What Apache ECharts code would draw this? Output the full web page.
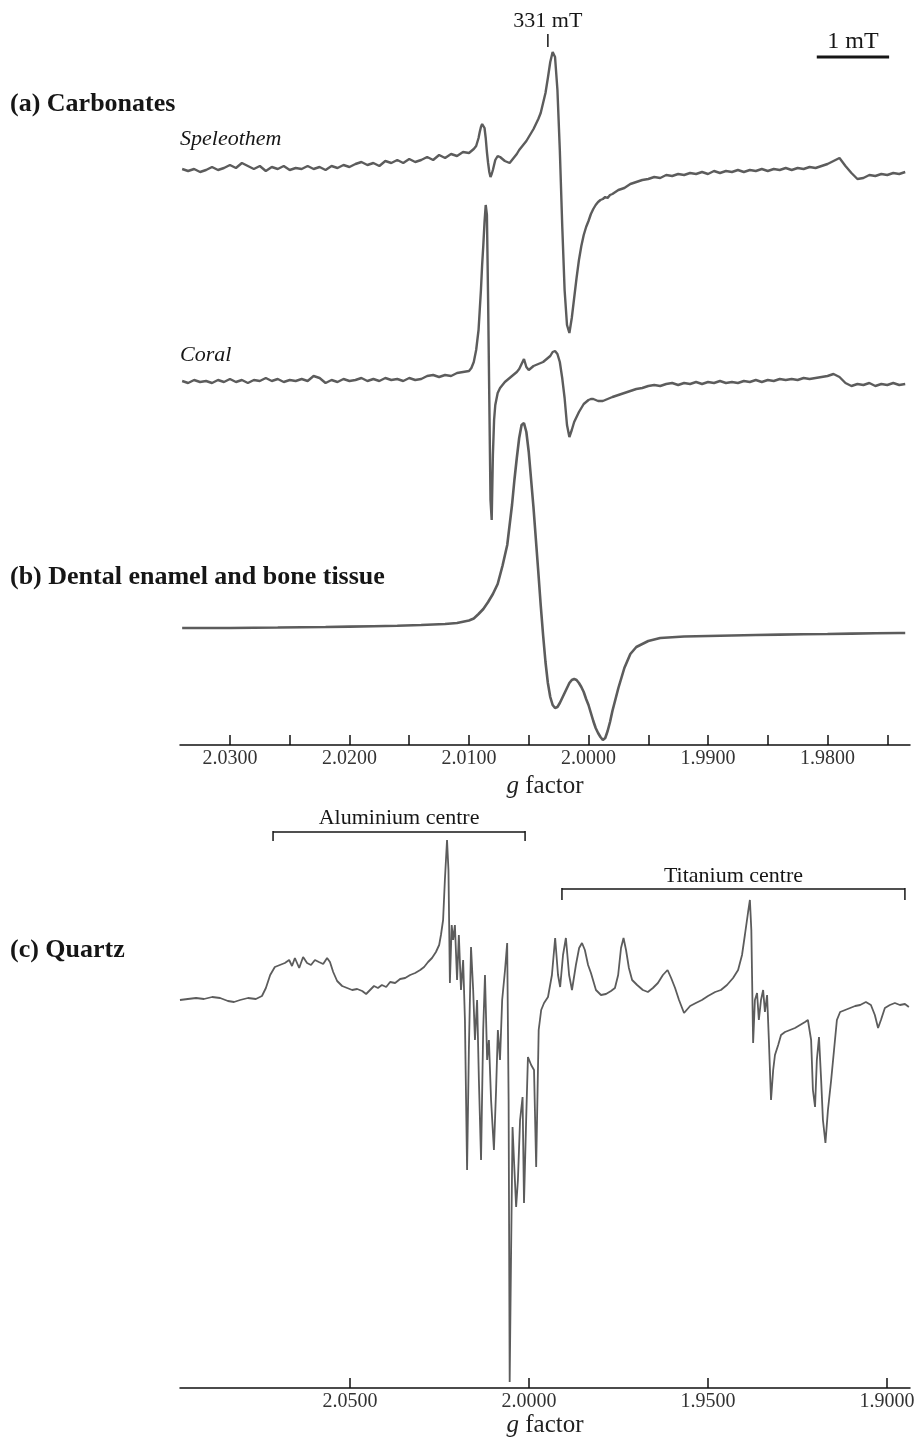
<!DOCTYPE html>
<html><head><meta charset="utf-8">
<script src="https://cdn.jsdelivr.net/npm/echarts@6/dist/echarts.min.js"></script>
<style>html,body{margin:0;padding:0;background:#fff}#c{width:917px;height:1445px}</style>
</head><body><div id="c"></div>
<script>
// ---------------- DATA (g factor, relative EPR intensity in a.u.) ----------------
const speleothem = [[2.0340,0.1],[2.0335,-0.1],[2.0330,0.1],[2.0325,-0.2],[2.0320,0],[2.0315,0.3],[2.0310,0],[2.0305,0.2],[2.0300,0.5],[2.0295,0.2],[2.0290,0.7],[2.0285,0.4],[2.0280,0.1],[2.0275,0.4],[2.0270,-0.1],[2.0265,0.3],[2.0260,0.1],[2.0255,0.4],[2.0250,0],[2.0245,0.2],[2.0240,0.1],[2.0235,0.4],[2.0230,0.1],[2.0225,0.3],[2.0220,0],[2.0215,0.4],[2.0210,0.2],[2.0205,0.5],[2.0200,0.3],[2.0195,0.6],[2.0190,0.8],[2.0185,0.5],[2.0180,0.7],[2.0175,0.4],[2.0170,0.9],[2.0165,0.7],[2.0160,1.0],[2.0155,0.7],[2.0150,1.1],[2.0145,0.8],[2.0140,1.0],[2.0135,1.3],[2.0130,1.0],[2.0125,1.5],[2.0120,1.2],[2.0115,1.6],[2.0110,1.4],[2.0105,1.8],
[2.0100,1.7],[2.0098,1.9],[2.0096,2.1],[2.0094,2.4],[2.0092,3.2],[2.0091,3.8],[2.0090,4.3],[2.0089,4.6],[2.0088,4.7],[2.0087,4.2],[2.0086,3.2],[2.0085,1.8],[2.0084,0.7],[2.0083,-0.2],[2.0082,-0.7],[2.0081,-0.4],[2.0080,0],[2.0079,0.5],[2.0078,1.0],[2.0076,1.4],[2.0074,1.3],[2.0072,1.1],[2.0070,0.9],[2.0068,0.8],[2.0066,0.7],[2.0064,1.0],[2.0062,1.3],[2.0060,1.6],[2.0058,2.0],[2.0056,2.3],[2.0054,2.6],[2.0052,2.9],[2.0050,3.3],[2.0048,3.7],[2.0046,4.1],[2.0044,4.6],[2.0042,5.1],[2.0040,5.7],[2.0038,6.7],[2.0036,7.7],[2.0034,9.2],[2.0032,10.8],[2.0030,11.8],[2.0028,11.3],[2.0026,8.0],[2.0024,2.0],[2.0022,-5.5],[2.0020,-12.0],[2.0018,-15.5],[2.0016,-16.3],[2.0014,-14.8],[2.0012,-12.8],[2.0010,-10.8],[2.0008,-9.0],[2.0006,-7.6],[2.0004,-6.5],[2.0002,-5.7],[2.0000,-5.1],[1.9998,-4.4],[1.9996,-3.9],[1.9994,-3.5],[1.9992,-3.2],[1.9990,-3.0],[1.9988,-2.9],[1.9986,-2.7],[1.9984,-2.8],[1.9982,-2.5],[1.9980,-2.4],
[1.9975,-2.0],[1.9970,-1.8],[1.9965,-1.4],[1.9960,-1.2],[1.9955,-1.0],[1.9950,-0.9],[1.9945,-0.7],[1.9940,-0.8],[1.9935,-0.5],[1.9930,-0.6],[1.9925,-0.4],[1.9920,-0.5],[1.9915,-0.3],[1.9910,-0.4],[1.9905,-0.2],[1.9900,-0.4],[1.9895,-0.1],[1.9890,-0.3],[1.9885,-0.1],[1.9880,-0.2],[1.9875,0],[1.9870,-0.2],[1.9865,0],[1.9860,-0.1],[1.9855,0.1],[1.9850,-0.1],[1.9845,0.1],[1.9840,0],[1.9835,0.2],[1.9830,0],[1.9825,0.2],[1.9820,0.1],[1.9815,0.3],[1.9810,0.2],[1.9805,0.4],[1.9800,0.6],[1.9795,0.9],[1.9790,1.2],[1.9785,0.4],[1.9780,-0.3],[1.9775,-0.9],[1.9770,-0.8],[1.9765,-0.5],[1.9760,-0.6],[1.9755,-0.4],[1.9750,-0.5],[1.9745,-0.3],[1.9740,-0.4],[1.9735,-0.2]];

const coral = [[2.0340,0],[2.0335,-0.2],[2.0330,0.1],[2.0325,-0.1],[2.0320,0],[2.0315,-0.2],[2.0310,0.1],[2.0305,-0.1],[2.0300,0.2],[2.0295,-0.1],[2.0290,0.1],[2.0285,-0.2],[2.0280,0.1],[2.0275,0],[2.0270,0.3],[2.0265,0],[2.0260,0.2],[2.0255,-0.1],[2.0250,0.1],[2.0245,0],[2.0240,0.2],[2.0235,0],[2.0230,0.5],[2.0225,0.3],[2.0220,-0.2],[2.0215,0.1],[2.0210,-0.1],[2.0205,0.2],[2.0200,0],[2.0195,0.1],[2.0190,0.3],[2.0185,0],[2.0180,0.2],[2.0175,0],[2.0170,0.3],[2.0165,0.1],[2.0160,0.2],[2.0155,0],[2.0150,0.3],[2.0145,0.1],[2.0140,0.2],[2.0135,0.5],[2.0130,0.6],[2.0125,0.4],[2.0120,0.6],[2.0115,0.5],[2.0110,0.8],[2.0105,0.9],
[2.0100,1.0],[2.0098,1.3],[2.0096,1.9],[2.0094,3.1],[2.0092,5.1],[2.0091,7.1],[2.0090,9.1],[2.0089,11.6],[2.0088,13.6],[2.0087,15.9],[2.0086,17.6],[2.0085,16.6],[2.0084,8.1],[2.0083,-1.9],[2.0082,-11.9],[2.0081,-13.9],[2.0080,-7.4],[2.0079,-3.9],[2.0078,-2.4],[2.0076,-1.2],[2.0074,-0.7],[2.0072,-0.4],[2.0070,-0.1],[2.0068,0.1],[2.0066,0.3],[2.0064,0.5],[2.0062,0.7],[2.0060,0.9],[2.0058,1.2],[2.0056,1.7],[2.0054,2.2],[2.0052,1.4],[2.0050,1.1],[2.0048,1.3],[2.0046,1.5],[2.0044,1.6],[2.0042,1.7],[2.0040,1.8],[2.0038,1.9],[2.0036,2.1],[2.0034,2.3],[2.0032,2.5],[2.0030,2.9],[2.0028,3.0],[2.0026,2.7],[2.0024,1.9],[2.0022,0.3],[2.0020,-1.7],[2.0018,-4.4],[2.0016,-5.6],[2.0014,-4.9],[2.0012,-4.1],[2.0010,-3.6],[2.0008,-3.1],[2.0006,-2.7],[2.0004,-2.3],[2.0002,-2.1],[2.0000,-1.9],[1.9998,-1.8],[1.9996,-1.8],[1.9994,-1.9],[1.9992,-2.0],[1.9990,-2.0],[1.9988,-2.0],[1.9986,-1.9],[1.9984,-1.8],[1.9982,-1.7],[1.9980,-1.6],
[1.9975,-1.4],[1.9970,-1.2],[1.9965,-1.0],[1.9960,-0.8],[1.9955,-0.7],[1.9950,-0.5],[1.9945,-0.4],[1.9940,-0.5],[1.9935,-0.3],[1.9930,-0.2],[1.9925,-0.4],[1.9920,-0.2],[1.9915,-0.3],[1.9910,-0.1],[1.9905,-0.3],[1.9900,-0.1],[1.9895,-0.2],[1.9890,0],[1.9885,-0.2],[1.9880,-0.1],[1.9875,-0.2],[1.9870,0],[1.9865,-0.1],[1.9860,0.1],[1.9855,-0.1],[1.9850,0.1],[1.9845,0],[1.9840,0.2],[1.9835,0.1],[1.9830,0.2],[1.9825,0.1],[1.9820,0.3],[1.9815,0.2],[1.9810,0.3],[1.9805,0.4],[1.9800,0.5],[1.9795,0.7],[1.9790,0.4],[1.9785,-0.2],[1.9780,-0.5],[1.9775,-0.3],[1.9770,-0.4],[1.9765,-0.2],[1.9760,-0.5],[1.9755,-0.3],[1.9750,-0.4],[1.9745,-0.2],[1.9740,-0.4],[1.9735,-0.3]];

const enamel = [[2.0340,0],[2.0320,0],[2.0300,0],[2.0280,0.03],[2.0260,0.05],[2.0240,0.08],[2.0220,0.1],[2.0200,0.14],[2.0180,0.18],[2.0160,0.22],[2.0140,0.3],[2.0120,0.4],[2.0110,0.5],[2.0100,0.75],[2.0096,0.95],[2.0092,1.4],[2.0088,1.9],[2.0084,2.6],[2.0080,3.4],[2.0076,4.4],[2.0072,6.2],[2.0068,8.3],[2.0064,12.3],[2.0062,14.8],[2.0060,17.0],[2.0058,19.0],[2.0056,20.3],[2.0054,20.5],[2.0052,19.6],[2.0050,17.6],[2.0048,14.8],[2.0046,12.0],[2.0044,8.8],[2.0042,5.6],[2.0040,2.3],[2.0038,-0.7],[2.0036,-3.4],[2.0034,-5.5],[2.0032,-6.9],[2.0030,-7.7],[2.0028,-8.0],[2.0026,-7.9],[2.0024,-7.5],[2.0022,-7.0],[2.0020,-6.5],[2.0018,-6.0],[2.0016,-5.5],[2.0014,-5.2],[2.0012,-5.1],[2.0010,-5.2],[2.0008,-5.5],[2.0006,-5.9],[2.0004,-6.4],[2.0002,-7.1],[2.0000,-7.7],[1.9998,-8.5],[1.9996,-9.3],[1.9994,-10.0],[1.9992,-10.5],[1.9990,-10.9],[1.9988,-11.2],[1.9986,-11.0],[1.9984,-10.3],[1.9982,-9.4],[1.9980,-8.3],[1.9975,-6.0],[1.9970,-4.0],[1.9965,-2.6],[1.9960,-1.9],[1.9950,-1.3],[1.9940,-1.0],[1.9920,-0.85],[1.9900,-0.8],[1.9880,-0.75],[1.9860,-0.7],[1.9840,-0.66],[1.9820,-0.62],[1.9800,-0.6],[1.9780,-0.56],[1.9760,-0.53],[1.9740,-0.5],[1.9735,-0.5]];

const quartz = [[2.0975,-0.1],[2.0953,0],[2.0930,0.1],[2.0908,0],[2.0885,0.2],[2.0863,0.1],[2.0841,-0.2],[2.0824,-0.3],[2.0807,-0.1],[2.0785,0.1],[2.0763,0],[2.0746,0.3],[2.0735,1.1],[2.0723,2.4],[2.0710,3.2],[2.0696,3.4],[2.0682,3.6],[2.0670,3.9],[2.0662,3.3],[2.0654,4.1],[2.0642,3.1],[2.0631,4.2],[2.0620,3.6],[2.0609,3.4],[2.0598,3.9],[2.0587,3.7],[2.0575,3.5],[2.0564,4.1],[2.0556,3.7],[2.0547,2.7],[2.0536,1.8],[2.0522,1.3],[2.0508,1.1],[2.0494,0.9],[2.0480,1.0],[2.0466,0.8],[2.0455,0.5],[2.0444,0.9],[2.0433,1.3],[2.0422,1.1],[2.0411,1.4],[2.0399,1.2],[2.0388,1.7],[2.0374,1.6],[2.0360,2.0],[2.0346,2.1],[2.0332,2.4],[2.0318,2.6],[2.0304,2.9],[2.0293,3.2],[2.0282,3.7],[2.0271,4.1],[2.0260,4.7],[2.0251,5.4],[2.0246,6.4],[2.0240,7.9],[2.0235,11.9],[2.0229,15.9],[2.0225,12.9],[2.0221,1.6],[2.0216,7.4],[2.0212,5.9],[2.0207,7.4],[2.0201,1.9],[2.0196,6.4],[2.0190,0.9],[2.0184,3.9],[2.0179,-2.1],[2.0173,-17.1],[2.0168,-5.1],[2.0162,5.2],[2.0156,0.9],[2.0151,-4.1],[2.0145,-0.1],[2.0140,-8.1],[2.0134,-16.1],[2.0128,-3.1],[2.0123,2.4],[2.0117,-6.1],[2.0112,-4.1],[2.0106,-10.1],[2.0098,-15.1],[2.0092,-9.1],[2.0087,-3.1],[2.0081,-6.1],[2.0075,-0.1],[2.0067,2.9],[2.0061,5.6],[2.0057,-10.1],[2.0054,-38.3],[2.0050,-25.1],[2.0046,-12.8],[2.0042,-16.1],[2.0036,-20.8],[2.0031,-18.1],[2.0025,-12.1],[2.0018,-9.8],[2.0014,-20.4],[2.0008,-12.1],[2.0003,-5.8],[1.9994,-6.6],[1.9986,-7.1],[1.9980,-16.8],[1.9973,-3.1],[1.9966,-1.1],[1.9958,-0.4],[1.9947,0.2],[1.9936,2.4],[1.9927,6.1],[1.9919,2.4],[1.9913,1.2],[1.9905,4.4],[1.9897,6.1],[1.9888,2.4],[1.9880,0.9],[1.9869,3.4],[1.9860,5.1],[1.9852,5.6],[1.9844,4.9],[1.9835,3.4],[1.9827,2.6],[1.9813,0.9],[1.9799,0.4],[1.9785,0.5],[1.9771,0.8],[1.9760,1.1],[1.9751,2.4],[1.9743,5.1],[1.9736,6.1],[1.9729,4.9],[1.9721,3.1],[1.9712,1.9],[1.9698,1.4],[1.9682,0.9],[1.9668,0.7],[1.9654,1.1],[1.9640,1.6],[1.9626,2.4],[1.9613,2.9],[1.9603,2.1],[1.9592,1.1],[1.9581,-0.1],[1.9567,-1.4],[1.9550,-0.7],[1.9534,-0.4],[1.9517,-0.1],[1.9500,0.3],[1.9480,0.7],[1.9464,0.9],[1.9447,1.4],[1.9430,2.1],[1.9416,2.9],[1.9405,4.4],[1.9397,6.4],[1.9388,8.7],[1.9383,9.9],[1.9379,6.9],[1.9374,-4.4],[1.9369,-0.1],[1.9363,0.6],[1.9358,-2.1],[1.9352,-0.1],[1.9346,0.9],[1.9341,-1.3],[1.9335,0.4],[1.9330,-4.1],[1.9324,-10.1],[1.9318,-7.1],[1.9313,-5.6],[1.9304,-4.6],[1.9296,-3.6],[1.9285,-3.3],[1.9271,-3.1],[1.9257,-2.9],[1.9243,-2.6],[1.9229,-2.3],[1.9221,-2.1],[1.9212,-4.1],[1.9207,-9.1],[1.9201,-10.8],[1.9196,-6.1],[1.9190,-3.8],[1.9184,-8.1],[1.9179,-12.1],[1.9172,-14.4],[1.9165,-11.1],[1.9156,-8.1],[1.9148,-5.1],[1.9140,-2.1],[1.9131,-1.3],[1.9117,-1.1],[1.9103,-0.9],[1.9089,-0.7],[1.9075,-0.6],[1.9059,-0.3],[1.9045,-0.6],[1.9034,-1.6],[1.9025,-2.9],[1.9017,-2.1],[1.9006,-0.9],[1.8992,-0.6],[1.8978,-0.4],[1.8964,-0.6],[1.8950,-0.5],[1.8939,-0.8]];

// axis ticks / labels (g factor)
const topTicks = [2.030, 2.025, 2.020, 2.015, 2.010, 2.005, 2.000, 1.995, 1.990, 1.985, 1.980, 1.975];
const topLabels = [2.03, 2.02, 2.01, 2.00, 1.99, 1.98];
const bottomTicks = [2.05, 2.00, 1.95, 1.90];
const bottomLabels = [2.05, 2.00, 1.95, 1.90];
const topRange = [1.9731, 2.03418];
const bottomRange = [1.89358, 2.09749];

// annotations (g factor positions)
const marker331 = 2.0034;          // 331 mT
const scaleBarStartG = 1.9809;     // left end of the 1 mT bar
const mTperBar = 1;
const fieldAtMarker = 331;          // mT
const aluminiumRange = [2.0715, 2.0011];
const titaniumRange = [1.9908, 1.8950];

// ---------------- LAYOUT ----------------
const offsets = { speleothem: 57.5, coral: 36.4, enamel: 11.7, quartz: 38.9 };
const SERIF = '"Liberation Serif", "Times New Roman", serif';
const TRACE = '#5c5c5c';

const chart = echarts.init(document.getElementById('c'), null, { renderer: 'canvas' });
const shift = (arr, off) => arr.map(p => [p[0], p[1] + off]);

function xAxisCfg(idx, range, ticks, labels, gap) {
  return {
    type: 'value', gridIndex: idx, inverse: true, min: range[0], max: range[1],
    axisLine: { show: true, lineStyle: { color: '#111', width: 1.5 } },
    axisTick: { show: true, inside: true, length: 10, lineStyle: { color: '#111', width: 1.5 }, customValues: ticks },
    axisLabel: { show: true, customValues: labels, formatter: v => v.toFixed(4), margin: 4,
      fontFamily: SERIF, fontSize: 20, color: '#333', hideOverlap: false },
    splitLine: { show: false },
    name: '{i|g} factor', nameLocation: 'middle', nameGap: gap,
    nameTextStyle: { fontFamily: SERIF, fontSize: 25, color: '#222',
      rich: { i: { fontFamily: SERIF, fontStyle: 'italic', fontSize: 25, color: '#222' } } }
  };
}

const lineSeries = (name, data, xi, w) => ({
  name, type: 'line', data, xAxisIndex: xi, yAxisIndex: xi, showSymbol: false, symbol: 'none',
  lineStyle: { color: TRACE, width: w }, silent: true, animation: false, clip: false
});

chart.setOption({
  animation: false,
  backgroundColor: '#fff',
  grid: [
    { left: 180, right: 7, top: 20, height: 725, containLabel: false, outerBoundsMode: 'none' },
    { left: 180, right: 7, top: 800, height: 588, containLabel: false, outerBoundsMode: 'none' }
  ],
  xAxis: [
    xAxisCfg(0, topRange, topTicks, topLabels, 28),
    xAxisCfg(1, bottomRange, bottomTicks, bottomLabels, 24)
  ],
  yAxis: [
    { type: 'value', gridIndex: 0, min: 0, max: 72.5, show: false },
    { type: 'value', gridIndex: 1, min: 0, max: 58.8, show: false }
  ],
  series: [
    lineSeries('Speleothem', shift(speleothem, offsets.speleothem), 0, 2.4),
    lineSeries('Coral', shift(coral, offsets.coral), 0, 2.4),
    lineSeries('Dental enamel', shift(enamel, offsets.enamel), 0, 2.6),
    lineSeries('Quartz', shift(quartz, offsets.quartz), 1, 1.8)
  ]
});

const pxTop = g => chart.convertToPixel({ xAxisIndex: 0 }, g);
const pxBot = g => chart.convertToPixel({ xAxisIndex: 1 }, g);
const txt = (text, x, y, font, align) => ({ type: 'text', silent: true,
  style: { text, x, y, font, fill: '#161616', align: align || 'left', verticalAlign: 'middle' } });
const seg = (x1, y1, x2, y2, w) => ({ type: 'line', silent: true,
  shape: { x1, y1, x2, y2 }, style: { stroke: '#161616', lineWidth: w || 1.5 } });

const mx = pxTop(marker331);
const barL = pxTop(scaleBarStartG);
const barR = pxTop(scaleBarStartG - mTperBar * marker331 / fieldAtMarker);
const al = aluminiumRange.map(pxBot), ti = titaniumRange.map(pxBot);

chart.setOption({
  graphic: [
    txt('(a) Carbonates', 10, 104, 'bold 26px ' + SERIF),
    txt('Speleothem', 180, 139, 'italic 22px ' + SERIF),
    txt('Coral', 180, 355, 'italic 22px ' + SERIF),
    txt('(b) Dental enamel and bone tissue', 10, 577, 'bold 26px ' + SERIF),
    txt('(c) Quartz', 10, 950, 'bold 26px ' + SERIF),
    txt('331 mT', mx, 21, '22px ' + SERIF, 'center'),
    seg(mx, 34, mx, 47, 1.5),
    txt('1 mT', (barL + barR) / 2, 42, '24px ' + SERIF, 'center'),
    seg(barL, 57, barR, 57, 3),
    txt('Aluminium centre', (al[0] + al[1]) / 2, 818, '22px ' + SERIF, 'center'),
    seg(al[0], 832, al[1], 832, 1.5), seg(al[0], 831, al[0], 841, 1.5), seg(al[1], 831, al[1], 841, 1.5),
    txt('Titanium centre', (ti[0] + ti[1]) / 2, 876, '22px ' + SERIF, 'center'),
    seg(ti[0], 889, ti[1], 889, 1.5), seg(ti[0], 888, ti[0], 900, 1.5), seg(ti[1], 888, ti[1], 900, 1.5)
  ]
});
</script></body></html>
